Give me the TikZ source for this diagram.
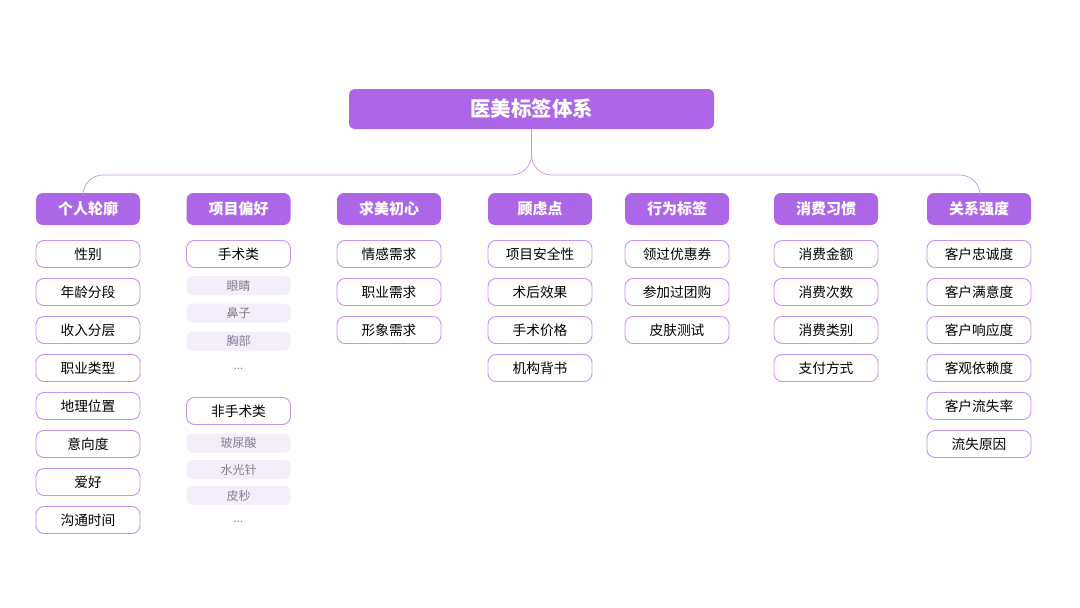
\documentclass[tikz,border=0pt]{standalone}
\usepackage{fontspec}
\setmainfont{Noto Sans CJK SC}
\definecolor{tagpurple}{HTML}{AD66E8}
\definecolor{tagline}{HTML}{C893F0}
\definecolor{tagsoft}{HTML}{F4EEFB}
\definecolor{taggrey}{HTML}{857A93}
\tikzset{
  rootbox/.style={fill=tagpurple, rounded corners=6pt, minimum width=365pt, minimum height=40pt, text=white, font=\fontsize{20.5}{22}\selectfont\bfseries},
  headbox/.style={fill=tagpurple, rounded corners=7pt, minimum width=104pt, minimum height=32pt, text=white, font=\fontsize{15}{17}\selectfont\bfseries},
  itembox/.style={draw=tagline, fill=white, line width=0.9pt, rounded corners=8pt, minimum width=104pt, minimum height=27pt, font=\fontsize{13.7}{15}\selectfont},
  subbox/.style={fill=tagsoft, rounded corners=6pt, minimum width=104pt, minimum height=19pt, text=taggrey, font=\fontsize{12}{13}\selectfont},
  dots/.style={text=taggrey, font=\fontsize{11}{12}\selectfont},
  conn/.style={draw=tagline, line width=0.7pt, rounded corners=20pt}
}
\begin{document}
\begin{tikzpicture}[x=1pt, y=-1pt]
  \useasboundingbox (0,0) rectangle (1080,608);
  \node[rootbox] (root) at (531.5,109) {医美标签体系};
  \node[headbox] (hA) at (88,209) {个人轮廓};
  \node[headbox] (hB) at (238.5,209) {项目偏好};
  \node[headbox] (hC) at (389,209) {求美初心};
  \node[headbox] (hD) at (540,209) {顾虑点};
  \node[headbox] (hE) at (677,209) {行为标签};
  \node[headbox] (hF) at (826,209) {消费习惯};
  \node[headbox] (hG) at (979,209) {关系强度};
  \coordinate (bus) at (0,175);
  \coordinate (endA) at ([xshift=-5pt]hA.north);
  \coordinate (endG) at ([xshift=1pt]hG.north);
  \draw[conn] (root.south) -- (root.south |- bus) -- (endA |- bus) -- (endA);
  \draw[conn] (root.south) -- (root.south |- bus) -- (endG |- bus) -- (endG);
  % 个人轮廓
  \node[itembox] (a1) at (88,254) {性别};
  \node[itembox] (a2) at (88,292) {年龄分段};
  \node[itembox] (a3) at (88,330) {收入分层};
  \node[itembox] (a4) at (88,368) {职业类型};
  \node[itembox] (a5) at (88,406) {地理位置};
  \node[itembox] (a6) at (88,444) {意向度};
  \node[itembox] (a7) at (88,482) {爱好};
  \node[itembox] (a8) at (88,520) {沟通时间};
  % 项目偏好
  \node[itembox] (b1) at (238.5,254) {手术类};
  \node[subbox] (b11) at (238.5,285.5) {眼睛};
  \node[subbox] (b12) at (238.5,313) {鼻子};
  \node[subbox] (b13) at (238.5,341) {胸部};
  \node[dots] (b14) at (238.5,369) {...};
  \node[itembox] (b2) at (238.5,411) {非手术类};
  \node[subbox] (b21) at (238.5,443) {玻尿酸};
  \node[subbox] (b22) at (238.5,469.5) {水光针};
  \node[subbox] (b23) at (238.5,495.5) {皮秒};
  \node[dots] (b24) at (238.5,522) {...};
  % 求美初心
  \node[itembox] (c1) at (389,254) {情感需求};
  \node[itembox] (c2) at (389,292) {职业需求};
  \node[itembox] (c3) at (389,330) {形象需求};
  % 顾虑点
  \node[itembox] (d1) at (540,254) {项目安全性};
  \node[itembox] (d2) at (540,292) {术后效果};
  \node[itembox] (d3) at (540,330) {手术价格};
  \node[itembox] (d4) at (540,368) {机构背书};
  % 行为标签
  \node[itembox] (e1) at (677,254) {领过优惠券};
  \node[itembox] (e2) at (677,292) {参加过团购};
  \node[itembox] (e3) at (677,330) {皮肤测试};
  % 消费习惯
  \node[itembox] (f1) at (826,254) {消费金额};
  \node[itembox] (f2) at (826,292) {消费次数};
  \node[itembox] (f3) at (826,330) {消费类别};
  \node[itembox] (f4) at (826,368) {支付方式};
  % 关系强度
  \node[itembox] (g1) at (979,254) {客户忠诚度};
  \node[itembox] (g2) at (979,292) {客户满意度};
  \node[itembox] (g3) at (979,330) {客户响应度};
  \node[itembox] (g4) at (979,368) {客观依赖度};
  \node[itembox] (g5) at (979,406) {客户流失率};
  \node[itembox] (g6) at (979,444) {流失原因};
\end{tikzpicture}
\end{document}
